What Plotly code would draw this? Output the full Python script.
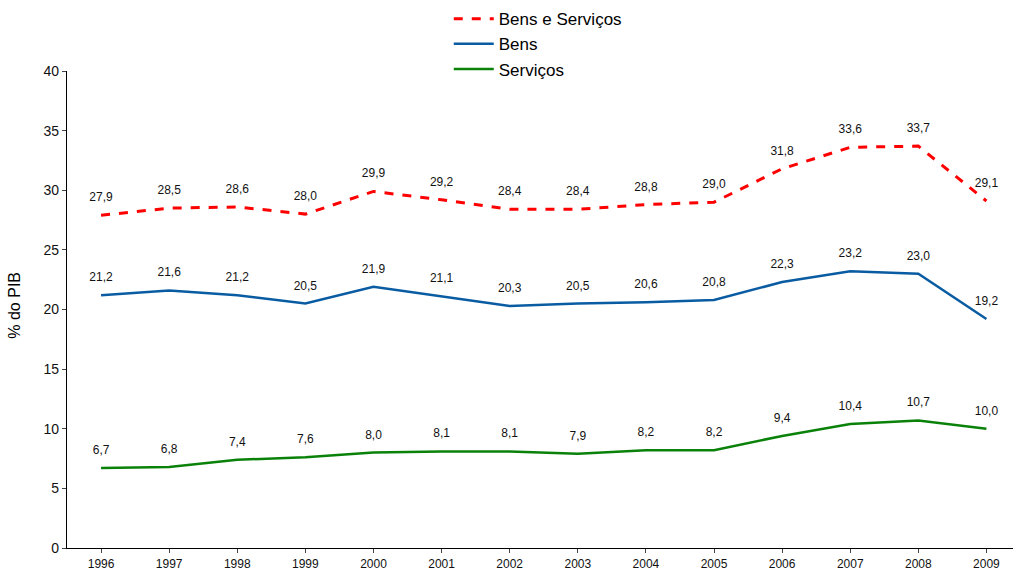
import plotly.graph_objects as go

anos = ["1996", "1997", "1998", "1999", "2000", "2001", "2002", "2003",
        "2004", "2005", "2006", "2007", "2008", "2009"]
bens_servicos = [27.9, 28.5, 28.6, 28.0, 29.9, 29.2, 28.4, 28.4, 28.8, 29.0, 31.8, 33.6, 33.7, 29.1]
bens = [21.2, 21.6, 21.2, 20.5, 21.9, 21.1, 20.3, 20.5, 20.6, 20.8, 22.3, 23.2, 23.0, 19.2]
servicos = [6.7, 6.8, 7.4, 7.6, 8.0, 8.1, 8.1, 7.9, 8.2, 8.2, 9.4, 10.4, 10.7, 10.0]

x = list(range(len(anos)))


def rotulos(vals):
    return [f"{v:.1f}".replace(".", ",") for v in vals]


fig = go.Figure()
series = [
    ("Bens e Serviços", bens_servicos, dict(color="#FF0000", width=3, dash="dash")),
    ("Bens", bens, dict(color="#0A5CA2", width=2.5)),
    ("Serviços", servicos, dict(color="#0A820A", width=2.5)),
]
for nome, vals, linha in series:
    # invisible markers push the value labels a little above the line
    fig.add_trace(go.Scatter(
        x=x, y=vals, name=nome, mode="lines+markers+text",
        line=linha, marker=dict(size=16, color="rgba(0,0,0,0)"),
        text=rotulos(vals), textposition="top center",
        textfont=dict(family="Liberation Sans", size=12, color="#111111"),
        cliponaxis=False,
    ))

# y-axis title as a rotated annotation
fig.add_annotation(
    text="% do PIB", textangle=-90, showarrow=False,
    xref="paper", yref="paper", x=-0.055, y=0.51,
    xanchor="center", yanchor="middle",
    font=dict(family="Liberation Sans", size=16, color="#000000"),
)

fig.update_layout(
    width=1013, height=569,
    margin=dict(l=67, r=0, t=71, b=21, autoexpand=False),
    paper_bgcolor="white", plot_bgcolor="white",
    font=dict(family="Liberation Sans", color="#111111"),
    showlegend=True,
    legend=dict(
        xref="container", yref="container",
        x=0.443, xanchor="left", y=0.998, yanchor="top",
        bgcolor="rgba(0,0,0,0)", font=dict(size=17, color="#000000"),
        tracegroupgap=0, itemwidth=40,
    ),
    xaxis=dict(
        range=[-0.5, 13.39], tickmode="array",
        tickvals=x, ticktext=anos, ticks="outside", ticklen=4,
        tickson="boundaries", showgrid=False, zeroline=False,
        showline=True, linecolor="#000000", linewidth=1.2,
        tickfont=dict(size=12, color="#111111"), ticklabelstandoff=0,
    ),
    yaxis=dict(
        range=[0, 40], dtick=5, ticks="outside", ticklen=4,
        showgrid=False, zeroline=False,
        showline=True, linecolor="#000000", linewidth=1.2,
        tickfont=dict(size=14, color="#111111"),
    ),
)

fig.write_html("out.html")
